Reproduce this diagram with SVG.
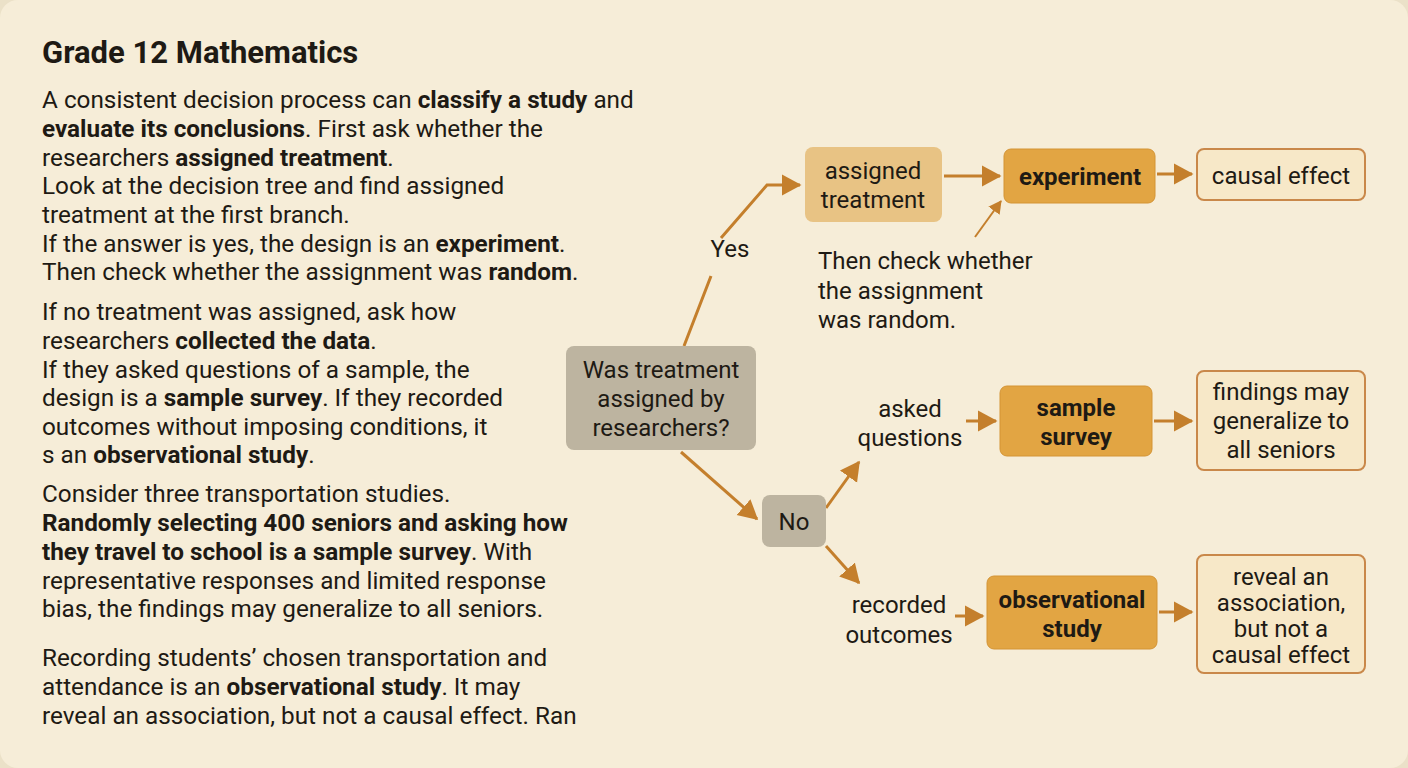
<svg xmlns="http://www.w3.org/2000/svg" width="1408" height="768" viewBox="0 0 1408 768">
<defs>
<style>
text{font-family:"Roboto","Liberation Sans",sans-serif;fill:#1e1a14}
.p{font-size:24.3px}
.b{font-weight:bold}
.n{font-size:24px;text-anchor:middle}
.c{stroke:#c47f2c;stroke-width:3;fill:none;marker-end:url(#a)}
</style>
<marker id="a" markerWidth="8" markerHeight="8" refX="6" refY="4" orient="auto" markerUnits="strokeWidth"><path d="M0,0.5 L6.5,4 L0,7.5 Z" fill="#c47f2c"/></marker>
</defs>
<rect x="0" y="0" width="1408" height="768" fill="#ebe1c8"/>
<rect x="0" y="0" width="1408" height="768" rx="18" fill="#f6edd8"/>
<g id="text">
<text x="42" y="63" font-size="31" class="b">Grade 12 Mathematics</text>
<text class="p"><tspan x="42" y="108">A consistent decision process can <tspan class="b">classify a study</tspan> and</tspan><tspan x="42" y="137"><tspan class="b">evaluate its conclusions</tspan>. First ask whether the</tspan><tspan x="42" y="166">researchers <tspan class="b">assigned treatment</tspan>.</tspan><tspan x="42" y="194">Look at the decision tree and find assigned</tspan><tspan x="42" y="223">treatment at the first branch.</tspan><tspan x="42" y="252">If the answer is yes, the design is an <tspan class="b">experiment</tspan>.</tspan><tspan x="42" y="280">Then check whether the assignment was <tspan class="b">random</tspan>.</tspan>
<tspan x="42" y="320">If no treatment was assigned, ask how</tspan><tspan x="42" y="349">researchers <tspan class="b">collected the data</tspan>.</tspan><tspan x="42" y="378">If they asked questions of a sample, the</tspan><tspan x="42" y="406">design is a <tspan class="b">sample survey</tspan>. If they recorded</tspan><tspan x="42" y="435">outcomes without imposing conditions, it</tspan><tspan x="42" y="463">s an <tspan class="b">observational study</tspan>.</tspan>
<tspan x="42" y="502">Consider three transportation studies.</tspan><tspan x="42" y="531" class="b">Randomly selecting 400 seniors and asking how</tspan><tspan x="42" y="560"><tspan class="b">they travel to school is a sample survey</tspan>. With</tspan><tspan x="42" y="589">representative responses and limited response</tspan><tspan x="42" y="617">bias, the findings may generalize to all seniors.</tspan>
<tspan x="42" y="666">Recording students’ chosen transportation and</tspan><tspan x="42" y="695">attendance is an <tspan class="b">observational study</tspan>. It may</tspan><tspan x="42" y="724">reveal an association, but not a causal effect. Ran</tspan></text>
</g>
<g id="connectors">
<path class="c" d="M684,346 L711,276 M721,238 L767,185 L800,185"/>
<path class="c" d="M681,452 L757,519"/>
<path class="c" d="M826,508 L859,462"/>
<path class="c" d="M826,546 L859,583"/>
<path class="c" d="M944,176 L1000,176"/>
<path class="c" d="M1157,174 L1192,174"/>
<path class="c" style="stroke-width:2" d="M975,237 L1001,201"/>
<path class="c" d="M966,421 L996,421"/>
<path class="c" d="M1154,421 L1192,421"/>
<path class="c" d="M955,616 L983,616"/>
<path class="c" d="M1159,612 L1192,612"/>
<text x="730" y="257" class="n">Yes</text>
<text style="font-size:24px"><tspan x="818" y="269">Then check whether</tspan><tspan x="818" y="299">the assignment</tspan><tspan x="818" y="328">was random.</tspan></text>
<text class="n"><tspan x="910" y="417">asked</tspan><tspan x="910" y="446">questions</tspan></text>
<text class="n"><tspan x="899" y="613">recorded</tspan><tspan x="899" y="643">outcomes</tspan></text>
</g>
<g id="q"><rect x="566" y="346" width="190" height="104" rx="8" fill="#bdb4a0"/><text class="n"><tspan x="661" y="378">Was treatment</tspan><tspan x="661" y="407">assigned by</tspan><tspan x="661" y="436">researchers?</tspan></text></g>
<g id="no"><rect x="762" y="495" width="64" height="52" rx="8" fill="#bdb4a0"/><text class="n" x="794" y="530">No</text></g>
<g id="assigned"><rect x="805" y="147" width="137" height="75" rx="8" fill="#e8c384"/><text class="n"><tspan x="873" y="179">assigned</tspan><tspan x="873" y="208">treatment</tspan></text></g>
<g id="experiment"><rect x="1004" y="149" width="151" height="54" rx="7" fill="#e2a543" stroke="#d49435"/><text class="n b" x="1080" y="185">experiment</text></g>
<g id="causal"><rect x="1197" y="149" width="168" height="51" rx="7" fill="#f7e8c8" stroke="#c9884a" stroke-width="2"/><text class="n" x="1281" y="184">causal effect</text></g>
<g id="sample"><rect x="1000" y="386" width="152" height="70" rx="7" fill="#e2a543" stroke="#d49435"/><text class="n b"><tspan x="1076" y="416">sample</tspan><tspan x="1076" y="445">survey</tspan></text></g>
<g id="findings"><rect x="1197" y="371" width="168" height="99" rx="7" fill="#f7e8c8" stroke="#c9884a" stroke-width="2"/><text class="n"><tspan x="1281" y="400">findings may</tspan><tspan x="1281" y="429">generalize to</tspan><tspan x="1281" y="458">all seniors</tspan></text></g>
<g id="obs"><rect x="987" y="576" width="170" height="73" rx="7" fill="#e2a543" stroke="#d49435"/><text class="n b"><tspan x="1072" y="608">observational</tspan><tspan x="1072" y="637">study</tspan></text></g>
<g id="reveal"><rect x="1197" y="555" width="168" height="118" rx="7" fill="#f7e8c8" stroke="#c9884a" stroke-width="2"/><text class="n"><tspan x="1281" y="585">reveal an</tspan><tspan x="1281" y="611">association,</tspan><tspan x="1281" y="637">but not a</tspan><tspan x="1281" y="663">causal effect</tspan></text></g>
</svg>
